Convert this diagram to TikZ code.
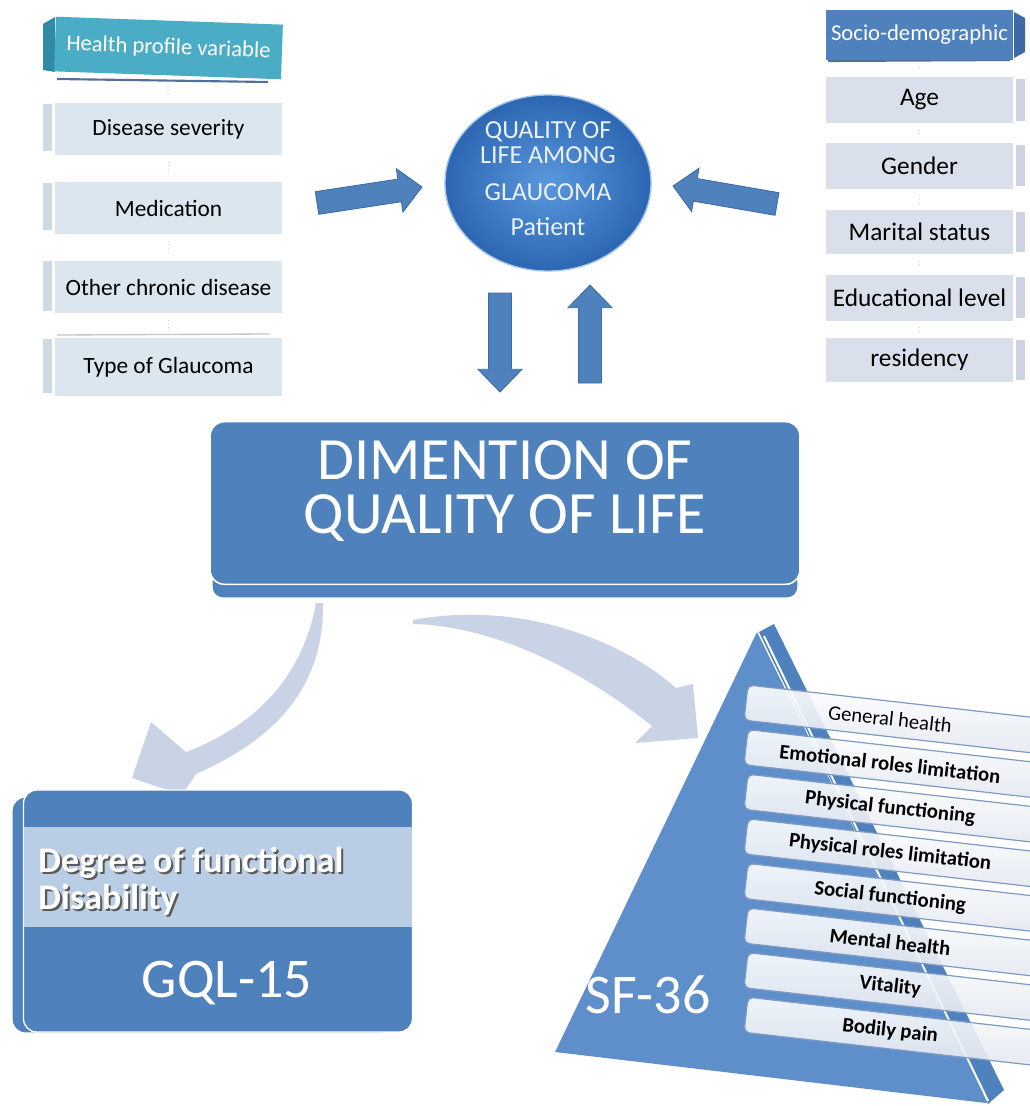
\documentclass[tikz,border=0pt]{standalone}
\usepackage{fontspec}
\setmainfont{Carlito}
\usetikzlibrary{calc,shapes.geometric}
\definecolor{qblue}{HTML}{4F81BD}
\definecolor{qdark}{HTML}{3B6AA5}
\definecolor{hteal}{HTML}{4BACC6}
\definecolor{htealdk}{HTML}{2F8BA3}
\definecolor{lboxc}{HTML}{DBE6EE}
\definecolor{ltabc}{HTML}{CCDAE4}
\definecolor{rboxc}{HTML}{DADFEC}
\definecolor{rtabc}{HTML}{CDD3E3}
\definecolor{curvec}{HTML}{CAD3E5}
\definecolor{bandc}{HTML}{B9CDE5}
\definecolor{tric}{HTML}{5F8FCA}
\definecolor{circin}{HTML}{5A98DD}
\definecolor{circout}{HTML}{2C66B2}
\definecolor{barline}{HTML}{7F9BC4}
\definecolor{barbot}{HTML}{E3E8F0}
\definecolor{circtext}{HTML}{EAF1FA}

\newcommand{\blockarr}[2]{%
  \coordinate (bn) at ($(#2)!17pt!(#1)$);
  \filldraw[blockarrow] ($(#1)!8.6pt!90:(#2)$) -- ($(bn)!8.6pt!90:(#2)$) -- ($(bn)!16.5pt!90:(#2)$) -- (#2) -- ($(bn)!16.5pt!-90:(#2)$) -- ($(bn)!8.6pt!-90:(#2)$) -- ($(#1)!8.6pt!-90:(#2)$) -- cycle;}

\begin{document}
\begin{tikzpicture}[x=0.75pt,y=-0.75pt,
  every node/.style={inner sep=0pt, outer sep=0pt},
  lhead/.style={rectangle, fill=hteal, text=white, minimum width=170.25pt, minimum height=41pt, font=\fontsize{17}{20}\selectfont},
  litem/.style={rectangle, fill=lboxc, minimum width=170.25pt, minimum height=39pt, font=\fontsize{17.5}{20}\selectfont},
  rhead/.style={rectangle, fill=qblue, text=white, minimum width=140.25pt, minimum height=37.5pt, font=\fontsize{17}{20}\selectfont},
  ritem/.style={rectangle, fill=rboxc, minimum width=140.25pt, minimum height=34.5pt, font=\fontsize{19}{22}\selectfont},
  smallconn/.style={draw=gray!35, dotted, line width=0.8pt, shorten <=5pt, shorten >=5pt},
  blockarrow/.style={fill=qblue, draw=qdark, line width=0.6pt},
  circtxt/.style={text=circtext, font=\fontsize{19.5}{22}\selectfont},
  dimtxt/.style={text=white, font=\fontsize{45}{46}\selectfont},
  curvearrow/.style={fill=curvec},
  barsty/.style={rectangle, rounded corners=4pt, minimum width=240pt, minimum height=26.5pt, top color=white, bottom color=barbot, draw=barline, line width=0.9pt, fill opacity=0.9, text opacity=1, font=\fontsize{15.5}{18}\selectfont},
  bigwhite/.style={text=white, font=\fontsize{42}{44}\selectfont}
]
\useasboundingbox (0,0) rectangle (1030,1106);
\clip (0,0) rectangle (1030,1106);
\fill[white] (0,0) rectangle (1030,1106);

% ---------------- left column ----------------
\fill[htealdk] (43,24) -- (55,17) -- (55,72) -- (43,70) -- cycle;
\foreach \ya/\yb in {104/151, 183/230, 261/311, 339/393}
  \fill[ltabc] (43,\ya) rectangle (52,\yb);
\draw[line width=1.6pt, qdark!70!gray] (57,79) -- (268,82);
\node[lhead, rotate=-2] (hp) at (168.5,48) {Health profile variable};
\node[litem] (ds) at (168.5,129) {Disease severity};
\node[litem] (med) at (168.5,208) {Medication};
\node[litem] (ocd) at (168.5,287) {Other chronic disease};
\node[litem, minimum height=43.5pt] (tg) at (168.5,367) {Type of Glaucoma};
\draw[line width=1pt, gray!45] (57,335) -- (270,334);
\draw[smallconn] (hp.south) -- (ds.north);
\draw[smallconn] (ds.south) -- (med.north);
\draw[smallconn] (med.south) -- (ocd.north);
\draw[smallconn] (ocd.south) -- (tg.north);

% ---------------- right column ----------------
\fill[qdark] (1014,12) -- (1025,18) -- (1025,52) -- (1014,58) -- cycle;
\foreach \ya/\yb in {79/121, 145/186, 212/252, 277/318, 340/380}
  \fill[rtabc] (1016,\ya) rectangle (1025,\yb);
\draw[line width=1.6pt, qdark!70!gray] (828,61) -- (1010,60);
\node[rhead] (sd) at (919.5,35) {Socio-demographic};
\node[ritem] (age) at (919.5,100) {Age};
\node[ritem] (gen) at (919.5,165.5) {Gender};
\node[ritem, minimum height=33pt] (mar) at (919.5,232) {Marital status};
\node[ritem] (edu) at (919.5,297.5) {Educational level};
\node[ritem, minimum height=33pt] (res) at (919.5,360) {residency};
\draw[smallconn] (sd.south) -- (age.north);
\draw[smallconn] (age.south) -- (gen.north);
\draw[smallconn] (gen.south) -- (mar.north);
\draw[smallconn] (mar.south) -- (edu.north);
\draw[smallconn] (edu.south) -- (res.north);

% ---------------- central circle ----------------
\node[ellipse, minimum width=154.5pt, minimum height=132pt, inner color=circin, outer color=circout, draw=circin!60!white, line width=1pt] (qol) at (548,183) {};
\node[circtxt] (q1) at (548,132) {QUALITY OF};
\node[circtxt] (q2) at (548,155) {LIFE AMONG};
\node[circtxt] (q3) at (548,192) {GLAUCOMA};
\node[circtxt] (q4) at (548,227) {Patient};

% ---------------- block arrows ----------------
\coordinate (la1) at (317,203); \coordinate (la2) at (422,187);
\coordinate (ra1) at (777,204); \coordinate (ra2) at (673,186);
\coordinate (da1) at (500,293); \coordinate (da2) at (500,392);
\coordinate (ua1) at (590,383); \coordinate (ua2) at (590,285);
\blockarr{la1}{la2}
\blockarr{ra1}{ra2}
\blockarr{da1}{da2}
\blockarr{ua1}{ua2}

% ---------------- central box ----------------
\draw[fill=qblue, draw=white, line width=1pt, rounded corners=8pt] (212,570) rectangle (798,598);
\node[rectangle, rounded corners=11pt, fill=qblue, draw=white, line width=1.2pt, minimum width=442.5pt, minimum height=122pt] (dim) at (505,503) {};
\node[dimtxt] (d1) at (505,460) {DIMENTION OF};
\node[dimtxt] (d2) at (505,518) {QUALITY OF LIFE};

% ---------------- curved arrows ----------------
\fill[curvearrow] (316,603) .. controls (302,680) and (252,727) .. (186,752)
  -- (151,722) -- (132,778) -- (182,795) -- (196,774)
  .. controls (282,736) and (324,682) .. (323,603) -- cycle;
\fill[curvearrow] (413,620) .. controls (520,600) and (622,640) .. (676,688)
  -- (693,684) -- (698,738) -- (635,743) -- (652,726)
  .. controls (590,676) and (500,626) .. (413,624) -- cycle;

% ---------------- GQL box ----------------
\draw[fill=qblue, draw=white, line width=1pt, rounded corners=10pt] (12,797) rectangle (395,1033);
\node[rectangle, rounded corners=10pt, fill=qblue, draw=white, line width=1pt, minimum width=291.75pt, minimum height=181.5pt] (gql) at (218,911) {};
\node[rectangle, fill=bandc, minimum width=290.5pt, minimum height=75pt] (gband) at (218,877) {};
\node[anchor=west, align=left, text=gray!70!black, font=\fontsize{27}{28}\selectfont\bfseries] at (40.5,883) {Degree of functional\\Disability};
\node[anchor=west, align=left, text=white, font=\fontsize{27}{28}\selectfont\bfseries] (deg) at (38.5,881) {Degree of functional\\Disability};
\node[bigwhite] (gqlt) at (227,983) {GQL-15};

% ---------------- SF-36 pyramid ----------------
\fill[qblue] (759,632) -- (774,624) -- (1004,1090) -- (988,1104) -- cycle;
\fill[tric] (757,632) -- (555,1052) -- (986,1103) -- (988,1101) -- cycle;
\draw[white, line width=1.5pt] (764,636) -- (988,1101);
\foreach \i/\t in {0/General health, 1/Emotional roles limitation, 2/Physical functioning, 3/Physical roles limitation, 4/Social functioning, 5/Mental health, 6/Vitality, 7/Bodily pain}
  \node[barsty, rotate=-6.5, anchor=north west] (b\i) at (748,{685+\i*44.6})
    {\ifnum\i=0 \mdseries\else\bfseries\fi \t\hspace*{22.5pt}};
\node[bigwhite] (sft) at (648,995) {SF-36};
\end{tikzpicture}
\end{document}
